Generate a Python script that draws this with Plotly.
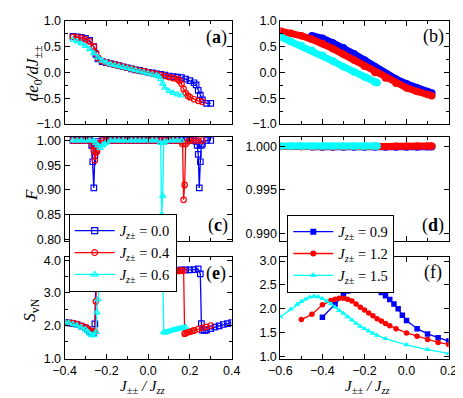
import plotly.graph_objects as go

# ---------------- data ----------------
# panel (a): de0/dJ vs J±±/Jzz  (Jz± = 0.0, 0.4, 0.6)
xa_b = [-0.36,-0.34,-0.32,-0.30,-0.28,-0.26,-0.25,-0.24,-0.22,-0.20,-0.18,-0.16,-0.14,-0.12,-0.10,-0.08,-0.06,-0.04,-0.02,0.00,0.02,0.04,0.06,0.08,0.10,0.12,0.14,0.16,0.18,0.20,0.22,0.23,0.24,0.25,0.26,0.28,0.30]
ya_b = [0.70,0.69,0.68,0.66,0.62,0.50,0.35,0.26,0.21,0.19,0.17,0.15,0.13,0.11,0.09,0.07,0.05,0.04,0.02,0.00,-0.01,-0.03,-0.04,-0.05,-0.07,-0.08,-0.09,-0.10,-0.13,-0.16,-0.20,-0.24,-0.35,-0.44,-0.53,-0.60,-0.60]
xa_r = [-0.36,-0.34,-0.32,-0.30,-0.28,-0.26,-0.25,-0.24,-0.22,-0.20,-0.18,-0.16,-0.14,-0.12,-0.10,-0.08,-0.06,-0.04,-0.02,0.00,0.02,0.04,0.06,0.08,0.10,0.12,0.14,0.15,0.16,0.17,0.18,0.19,0.20,0.22,0.24,0.26]
ya_r = [0.69,0.68,0.67,0.64,0.60,0.50,0.38,0.28,0.22,0.19,0.17,0.15,0.13,0.11,0.09,0.07,0.05,0.03,0.02,0.00,-0.02,-0.03,-0.05,-0.07,-0.09,-0.11,-0.13,-0.16,-0.22,-0.32,-0.40,-0.45,-0.48,-0.52,-0.55,-0.57]
xa_c = [-0.36,-0.34,-0.32,-0.30,-0.28,-0.26,-0.24,-0.22,-0.20,-0.18,-0.16,-0.14,-0.12,-0.10,-0.08,-0.06,-0.04,-0.02,0.00,0.02,0.04,0.05,0.06,0.07,0.08,0.10,0.12,0.14,0.16]
ya_c = [0.63,0.60,0.56,0.51,0.45,0.37,0.29,0.23,0.19,0.16,0.14,0.12,0.10,0.08,0.06,0.04,0.02,0.00,-0.02,-0.04,-0.06,-0.08,-0.13,-0.22,-0.30,-0.36,-0.40,-0.43,-0.45]

# panel (c): fidelity F
xc_b = [-0.36,-0.34,-0.32,-0.30,-0.28,-0.27,-0.265,-0.26,-0.255,-0.25,-0.24,-0.22,-0.20,-0.18,-0.16,-0.14,-0.12,-0.10,-0.08,-0.06,-0.04,-0.02,0.00,0.02,0.04,0.06,0.08,0.10,0.12,0.14,0.16,0.18,0.20,0.22,0.23,0.235,0.24,0.245,0.25,0.255,0.26,0.28,0.30]
yc_b = [1.0,1.0,1.0,1.0,1.0,0.99,0.957,0.904,0.97,0.99,0.998,1.0,1.0,1.0,1.0,1.0,1.0,1.0,1.0,1.0,1.0,1.0,1.0,1.0,1.0,1.0,1.0,1.0,1.0,1.0,1.0,1.0,1.0,1.0,0.998,0.99,0.972,0.904,0.957,0.99,0.993,1.0,1.0]
xc_r = [-0.36,-0.34,-0.32,-0.30,-0.28,-0.265,-0.26,-0.255,-0.25,-0.245,-0.24,-0.22,-0.20,-0.18,-0.16,-0.14,-0.12,-0.10,-0.08,-0.06,-0.04,-0.02,0.00,0.02,0.04,0.06,0.08,0.10,0.12,0.14,0.16,0.165,0.17,0.175,0.18,0.19,0.20,0.22,0.24,0.26]
yc_r = [1.0,1.0,1.0,1.0,1.0,0.99,0.98,0.96,0.975,0.978,0.995,1.0,1.0,1.0,1.0,1.0,1.0,1.0,1.0,1.0,1.0,1.0,1.0,1.0,1.0,1.0,1.0,1.0,1.0,1.0,0.998,0.993,0.88,0.91,0.993,0.998,1.0,1.0,1.0,1.0]
xc_c = [-0.36,-0.34,-0.32,-0.30,-0.28,-0.26,-0.25,-0.24,-0.23,-0.22,-0.21,-0.20,-0.18,-0.16,-0.14,-0.12,-0.10,-0.08,-0.06,-0.04,-0.02,0.00,0.02,0.04,0.06,0.065,0.07,0.075,0.08,0.10,0.12,0.14,0.16]
yc_c = [1.0,1.0,1.0,1.0,1.0,1.0,0.995,0.99,0.985,0.99,0.993,0.996,1.0,1.0,1.0,1.0,1.0,1.0,1.0,1.0,1.0,1.0,1.0,1.0,0.995,0.85,0.888,0.995,0.998,1.0,1.0,1.0,1.0]

# panel (e): entanglement entropy SvN
xe_b = [-0.40,-0.38,-0.36,-0.34,-0.32,-0.30,-0.29,-0.28,-0.27,-0.26,-0.255,-0.25,-0.24,-0.22,-0.20,-0.18,-0.16,-0.14,-0.12,-0.10,-0.08,-0.06,-0.04,-0.02,0.00,0.02,0.04,0.06,0.08,0.10,0.12,0.14,0.16,0.18,0.20,0.22,0.24,0.25,0.255,0.26,0.27,0.28,0.30,0.32,0.34,0.36,0.38,0.40]
ye_b = [2.10,2.08,2.06,2.03,1.98,1.93,1.88,1.83,1.78,1.78,2.05,3.58,3.72,3.65,3.63,3.62,3.62,3.63,3.62,3.62,3.63,3.62,3.62,3.63,3.63,3.64,3.65,3.65,3.66,3.68,3.68,3.69,3.70,3.70,3.70,3.71,3.73,3.58,2.06,1.86,1.85,1.86,1.90,1.95,1.99,2.03,2.06,2.09]
xe_r = [-0.40,-0.38,-0.36,-0.34,-0.32,-0.30,-0.29,-0.28,-0.27,-0.26,-0.255,-0.25,-0.245,-0.24,-0.22,-0.20,-0.18,-0.16,-0.14,-0.12,-0.10,-0.08,-0.06,-0.04,-0.02,0.00,0.02,0.04,0.06,0.08,0.10,0.12,0.13,0.14,0.15,0.16,0.17,0.175,0.18,0.19,0.20,0.21,0.22,0.24,0.26,0.28,0.30]
ye_r = [2.10,2.08,2.07,2.04,1.99,1.95,1.90,1.85,1.82,1.80,1.82,2.74,3.55,3.70,3.62,3.60,3.60,3.60,3.59,3.60,3.60,3.61,3.60,3.61,3.60,3.60,3.61,3.62,3.62,3.62,3.63,3.65,3.66,3.67,3.67,3.68,3.68,1.75,1.77,1.79,1.81,1.83,1.85,1.89,1.93,1.96,2.00]
xe_c = [-0.40,-0.38,-0.36,-0.34,-0.32,-0.30,-0.29,-0.28,-0.27,-0.26,-0.25,-0.245,-0.24,-0.235,-0.23,-0.22,-0.20,-0.18,-0.16,-0.14,-0.12,-0.10,-0.08,-0.06,-0.04,-0.02,0.00,0.02,0.03,0.04,0.05,0.06,0.07,0.075,0.08,0.09,0.10,0.11,0.12,0.13,0.14,0.15,0.16,0.17,0.18]
ye_c = [2.12,2.08,2.04,1.99,1.94,1.88,1.82,1.75,1.70,1.70,1.80,2.40,2.80,3.19,3.55,3.66,3.67,3.67,3.66,3.66,3.65,3.66,3.66,3.66,3.66,3.67,3.68,3.69,3.70,3.71,3.71,3.70,3.66,1.80,1.78,1.80,1.82,1.84,1.86,1.87,1.89,1.90,1.92,1.94,1.95]

# panel (b): de0/dJ, right column (Jz± = 0.9, 1.2, 1.5)
xb_b = [-0.45,-0.40,-0.35,-0.30,-0.25,-0.20,-0.15,-0.10,-0.05,0.00,0.05,0.10,0.12]
yb_b = [0.71,0.66,0.57,0.48,0.36,0.24,0.11,-0.02,-0.13,-0.22,-0.30,-0.37,-0.40]
xb_r = [-0.60,-0.55,-0.50,-0.45,-0.40,-0.35,-0.30,-0.25,-0.20,-0.15,-0.10,-0.05,0.00,0.05,0.10,0.12]
yb_r = [0.80,0.76,0.71,0.64,0.56,0.46,0.35,0.24,0.12,0.00,-0.11,-0.21,-0.30,-0.37,-0.43,-0.45]
xb_c = [-0.60,-0.55,-0.50,-0.45,-0.40,-0.35,-0.30,-0.25,-0.20,-0.15,-0.14]
yb_c = [0.69,0.60,0.52,0.43,0.33,0.22,0.11,0.01,-0.09,-0.19,-0.20]

# panel (d): fidelity, right column (same x as panel b)
yd_b = [0.99993,0.99992,0.99991,0.99990,0.99990,0.99990,0.99990,0.99990,0.99991,0.99991,0.99992,0.99993,0.99993]
yd_r = [0.99998,0.99996,0.99995,0.99995,0.99995,0.99995,0.99995,0.99996,0.99996,0.99997,0.99998,0.99999,1.00000,1.00001,1.00002,1.00002]
yd_c = [1.00003,1.00003,1.00003,1.00003,1.00003,1.00003,1.00003,1.00003,1.00003,1.00003,1.00003]

# panel (f): SvN, right column
xf_b = [-0.40,-0.34,-0.30,-0.28,-0.26,-0.24,-0.22,-0.20,-0.18,-0.16,-0.14,-0.12,-0.10,-0.08,-0.06,-0.04,-0.02,0.00,0.05,0.10,0.15,0.20]
yf_b = [1.82,2.09,2.29,2.37,2.42,2.45,2.47,2.48,2.47,2.45,2.40,2.34,2.27,2.19,2.10,2.00,1.86,1.75,1.58,1.47,1.39,1.32]
xf_r = [-0.50,-0.45,-0.40,-0.36,-0.34,-0.32,-0.30,-0.28,-0.26,-0.24,-0.22,-0.20,-0.18,-0.16,-0.14,-0.12,-0.10,-0.08,-0.05,0.00,0.05,0.10,0.15,0.20]
yf_r = [1.77,1.88,2.08,2.17,2.20,2.22,2.22,2.20,2.16,2.10,2.03,1.97,1.91,1.85,1.79,1.74,1.69,1.64,1.58,1.49,1.42,1.35,1.29,1.25]
xf_c = [-0.60,-0.55,-0.52,-0.50,-0.48,-0.46,-0.44,-0.42,-0.40,-0.38,-0.36,-0.34,-0.32,-0.30,-0.28,-0.26,-0.24,-0.22,-0.20,-0.18,-0.16,-0.14,-0.10,0.00,0.10,0.20]
yf_c = [1.83,1.99,2.09,2.15,2.20,2.24,2.26,2.25,2.21,2.16,2.10,2.03,1.96,1.90,1.83,1.76,1.69,1.63,1.58,1.53,1.48,1.44,1.37,1.24,1.14,1.06]

left_names = ["0.0", "0.4", "0.6"]
right_names = ["0.9", "1.2", "1.5"]
colors = ["#0000ff", "#ff0000", "#00ffff"]
open_symbols = ["square-open", "circle-open", "triangle-up-open"]
filled_symbols = ["square", "circle", "triangle-up"]

# ---------------- figure ----------------
W, H = 463, 398
SERIF = "Liberation Serif, DejaVu Serif, serif"
SANS = "Liberation Sans, Arial, sans-serif"

fig = go.Figure()

def add_left(xs, ys, xa, ya):
    for i, (x, y) in enumerate(zip(xs, ys)):
        fig.add_trace(go.Scatter(
            x=x, y=y, xaxis=xa, yaxis=ya, mode="lines+markers",
            line=dict(color=colors[i], width=1.3),
            marker=dict(symbol=open_symbols[i], size=5.5, color=colors[i],
                        line=dict(width=1.2, color=colors[i])),
            showlegend=False, hoverinfo="skip"))

add_left([xa_b, xa_r, xa_c], [ya_b, ya_r, ya_c], "x", "y")
add_left([xc_b, xc_r, xc_c], [yc_b, yc_r, yc_c], "x3", "y3")
add_left([xe_b, xe_r, xe_c], [ye_b, ye_r, ye_c], "x5", "y5")

def add_thick(xs, ys, xa, ya):
    for i, (x, y) in enumerate(zip(xs, ys)):
        fig.add_trace(go.Scatter(
            x=x, y=y, xaxis=xa, yaxis=ya, mode="lines+markers",
            line=dict(color=colors[i], width=7),
            marker=dict(symbol="circle", size=7.5, color=colors[i]),
            showlegend=False, hoverinfo="skip"))

add_thick([xb_b, xb_r, xb_c], [yb_b, yb_r, yb_c], "x2", "y2")
add_thick([xb_b, xb_r, xb_c], [yd_b, yd_r, yd_c], "x4", "y4")

for i, (x, y) in enumerate(zip([xf_b, xf_r, xf_c], [yf_b, yf_r, yf_c])):
    fig.add_trace(go.Scatter(
        x=x, y=y, xaxis="x6", yaxis="y6", mode="lines+markers",
        line=dict(color=colors[i], width=1.3),
        marker=dict(symbol=filled_symbols[i], size=5.5, color=colors[i]),
        showlegend=False, hoverinfo="skip"))

# legend entries
for i in range(3):
    fig.add_trace(go.Scatter(
        x=[None], y=[None], xaxis="x3", yaxis="y3", mode="lines+markers",
        line=dict(color=colors[i], width=1.3),
        marker=dict(symbol=open_symbols[i], size=6, color=colors[i],
                    line=dict(width=1.2, color=colors[i])),
        name="<i>J</i><sub><i>z</i>±</sub> = " + left_names[i],
        legend="legend", showlegend=True))
for i in range(3):
    fig.add_trace(go.Scatter(
        x=[None], y=[None], xaxis="x4", yaxis="y4", mode="lines+markers",
        line=dict(color=colors[i], width=1.3),
        marker=dict(symbol=filled_symbols[i], size=6, color=colors[i]),
        name="<i>J</i><sub><i>z</i>±</sub> = " + right_names[i],
        legend="legend2", showlegend=True))

# geometry (pixels)
LX = (46.7, 221.7)
RX = (272.7, 449.0)
ROWS = [(6, 113), (126, 234), (250.7, 356.7)]

def xd(px):
    return [px[0] / W, px[1] / W]

def yd(py):
    return [1 - py[1] / H, 1 - py[0] / H]

base = dict(showline=True, linecolor="black", linewidth=1, mirror="allticks",
            ticks="inside", ticklen=5, tickwidth=1, tickcolor="black",
            showgrid=False, zeroline=False,
            tickfont=dict(family=SANS, size=12.5, color="black"))

def xaxis(col, row, show):
    dom = LX if col == 0 else RX
    rng = [-0.4, 0.4] if col == 0 else [-0.6, 0.2]
    d = dict(base)
    d.update(domain=xd(dom), range=rng, dtick=0.2, tick0=0, tickformat=".1f",
             showticklabels=show,
             minor=dict(ticks="inside", ticklen=3, dtick=0.1, tick0=0, tickcolor="black"))
    return d

def yaxis(col, row, rng, dtick, fmt, minor=None):
    d = dict(base)
    d.update(domain=yd(ROWS[row]), range=rng, dtick=dtick, tick0=0, tickformat=fmt)
    if minor:
        d["minor"] = dict(ticks="inside", ticklen=3, dtick=minor, tick0=0, tickcolor="black")
    return d

layout = dict(
    width=W, height=H, margin=dict(l=0, r=0, t=0, b=0),
    paper_bgcolor="white", plot_bgcolor="white", showlegend=True,
    xaxis=dict(xaxis(0, 0, False), anchor="y"),
    yaxis=dict(yaxis(0, 0, [-1, 1], 0.5, ".1f", 0.25), anchor="x"),
    xaxis2=dict(xaxis(1, 0, False), anchor="y2"),
    yaxis2=dict(yaxis(1, 0, [-1, 1], 0.5, ".1f", 0.25), anchor="x2"),
    xaxis3=dict(xaxis(0, 1, False), anchor="y3"),
    yaxis3=dict(yaxis(0, 1, [0.797, 1.008], 0.05, ".2f"), anchor="x3"),
    xaxis4=dict(xaxis(1, 1, False), anchor="y4"),
    yaxis4=dict(yaxis(1, 1, [0.9892, 1.0011], 0.005, ".3f"), anchor="x4"),
    xaxis5=dict(xaxis(0, 2, True), anchor="y5"),
    yaxis5=dict(yaxis(0, 2, [0.97, 4.1], 1.0, ".1f", 0.5), anchor="x5"),
    xaxis6=dict(xaxis(1, 2, True), anchor="y6"),
    yaxis6=dict(yaxis(1, 2, [0.94, 3.087], 0.5, ".1f"), anchor="x6"),
    legend=dict(x=51 / W, y=1 - 206 / H, xanchor="left", yanchor="top",
                bgcolor="white", bordercolor="black", borderwidth=1,
                font=dict(family=SERIF, size=14.5, color="black"),
                tracegroupgap=0, itemwidth=40),
    legend2=dict(x=280 / W, y=1 - 207 / H, xanchor="left", yanchor="top",
                 bgcolor="white", bordercolor="black", borderwidth=1,
                 font=dict(family=SERIF, size=14.5, color="black"),
                 tracegroupgap=0, itemwidth=40),
)
fig.update_layout(**layout)

def ann(text, px, py, size=16, angle=0):
    fig.add_annotation(text=text, x=px / W, y=1 - py / H, xref="paper", yref="paper",
                       showarrow=False, textangle=angle, xanchor="center", yanchor="middle",
                       font=dict(family=SERIF, size=size, color="black"))

ann("(<b>a</b>)", 206, 23, 18)
ann("(b)", 433, 22.5, 18)
ann("(<b>c</b>)", 207, 218, 18)
ann("(<b>d</b>)", 433, 218, 18)
ann("(<b>e</b>)", 205, 268, 18)
ann("(f)", 433, 267, 18)

ann("<i>de</i><sub>0</sub><i>/dJ</i><sub>±±</sub>", 15, 60, 17, -90)
ann("<i>F</i>", 12, 186, 17, -90)
ann("<i>S</i><sub>vN</sub>", 12, 306, 17, -90)
ann("<i>J</i><sub>±±</sub><i> / J</i><sub><i>zz</i></sub>", 128, 386, 15)
ann("<i>J</i><sub>±±</sub><i> / J</i><sub><i>zz</i></sub>", 364, 386, 15)

fig.write_html("out.html")
